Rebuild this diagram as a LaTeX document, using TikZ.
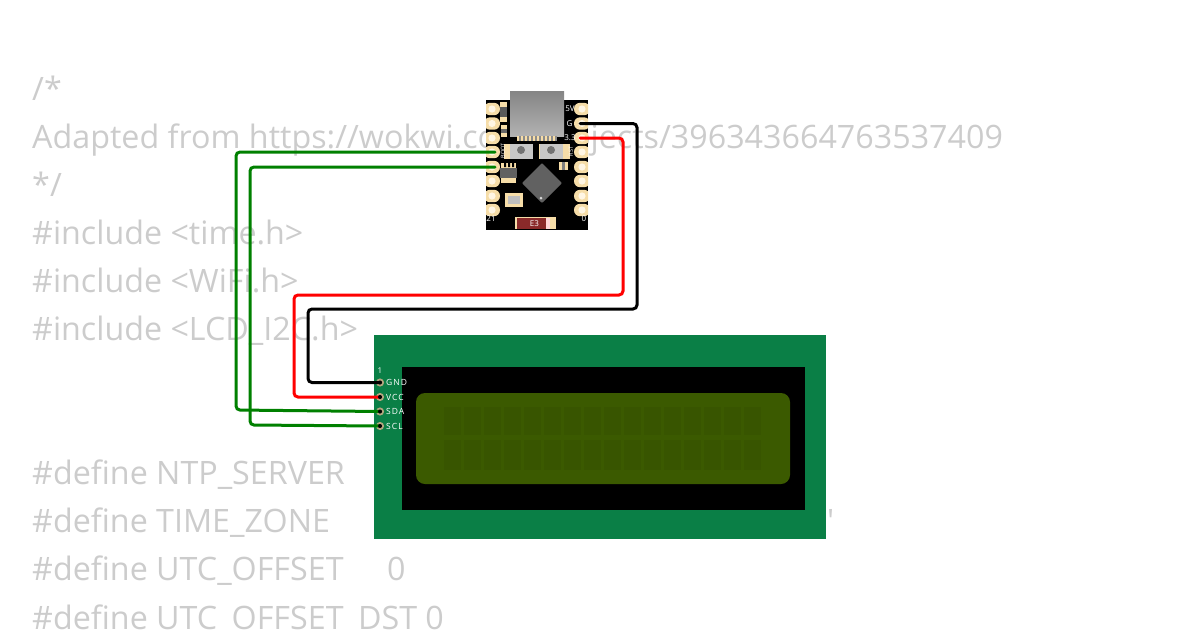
\documentclass[tikz,border=0pt]{standalone}
\usepackage{fontspec}
\setmainfont{Open Sans}
\newfontfamily\plainfont{Open Sans}
\definecolor{codegray}{HTML}{CCCCCC}
\definecolor{lcdgreen}{HTML}{0A7F46}
\definecolor{lcdolive}{HTML}{3B5A00}
\definecolor{lcdcell}{HTML}{385500}
\definecolor{padcream}{HTML}{F6DDA8}
\definecolor{holecream}{HTML}{FFF6E4}
\definecolor{pintan}{HTML}{B3A67E}
\definecolor{wiregreen}{HTML}{008000}
\definecolor{fusered}{HTML}{8A2A2A}
\tikzset{
  codeline/.style={anchor=base west, inner sep=0pt, text=codegray, font=\fontsize{32.25}{38}\selectfont},
  padbox/.style={fill=padcream, minimum width=16pt, minimum height=12.4pt, inner sep=0pt, rounded corners=6pt},
  pinhole/.style={circle, fill=black, minimum size=6pt, inner sep=0pt, draw=pintan, line width=2pt},
  tinytext/.style={text=white, inner sep=0pt, font=\fontsize{8}{9}\selectfont},
  sidetext/.style={text=white, inner sep=0pt, rotate=90, font=\fontsize{5.5}{6}\selectfont},
  pinlabel/.style={anchor=west, text=white, inner sep=0pt, font=\fontsize{8.5}{9}\selectfont\addfontfeature{LetterSpace=12}},
  wire/.style={line width=3pt, rounded corners=4pt, line cap=round},
  button/.style={fill=black!22, minimum width=23pt, minimum height=15pt, inner sep=0pt},
}
\begin{document}
\begin{tikzpicture}[x=1pt,y=-1pt]
\useasboundingbox (0,0) rectangle (1200,630);

% code behind the parts
  \node[codeline] (c1) at (32,100) {/*};
  \node[codeline] (c2) at (32,148) {Adapted from https://wokwi.com/projects/396343664763537409};
  \node[codeline] (c3) at (32,196) {*/};
  \node[codeline] (c4) at (32,244) {\#include <time.h>};
  \node[codeline] (c5) at (32,292) {\#include <WiFi.h>};
  \node[codeline] (c6) at (32,340) {\#include <LCD\_I2C.h>};
  \node[codeline] (c7) at (32,484) {\#define NTP\_SERVER};
  \node[codeline] (c8) at (32,532) {\#define TIME\_ZONE};
  \node[codeline] (c9) at (32,580) {\#define UTC\_OFFSET};
  \node[codeline] (c10) at (387,580) {0};
  \node[codeline] (c11) at (32,629) {\#define UTC\_OFFSET\_DST 0};
  \node[codeline] (c12) at (827,532) {\plainfont '};

% board
  \fill[black] (486,100) rectangle (588,230);
  \shade[top color=black!48, bottom color=black!30] (510,91) rectangle (564,136);
  \fill[padcream] (517,136) rectangle (557,141);
  \foreach \x in {520,524,...,556}
    \fill[black!45] (\x-0.6,136) rectangle (\x+0.6,141);

  \begin{scope}
  \clip (486,100) rectangle (588,230);
  \foreach \n/\y in {1/109,2/123.5,3/138,4/152,5/167,6/181,7/196,8/210} {
    \node[padbox] (l\n) at (492,\y) {};
    \node[padbox] (r\n) at (582,\y) {};
    \fill[holecream] (l\n.center) circle (3.6);
    \fill[holecream] (r\n.center) circle (3.6);
  }
  \end{scope}

% parts on the board
  \fill[padcream] (500,102) rectangle (507,122);
  \fill[black!65] (500,107) rectangle (507,117);
  \fill[padcream] (501,125) rectangle (507,137);
  \fill[black!60] (501,129) rectangle (507,133);
  \fill[padcream] (504,144) rectangle (570,159);
  \fill[black] (532,144) rectangle (539,159);
  \node[button] (btnL) at (521,151.5) {};
  \node[button] (btnR) at (551,151.5) {};
  \fill[black!55] (521,150) circle (4);
  \fill[black!55] (551,150) circle (4);
  \fill[padcream] (501,163) rectangle (516,183);
  \fill[black] (504,163) rectangle (506,167) (508,163) rectangle (510,167) (512,163) rectangle (514,167);
  \fill[black!62] (500,168) rectangle (517,178);
  \fill[padcream] (505,193) rectangle (523,207);
  \fill[black!25] (508,196) rectangle (520,204);
  \fill[padcream] (559,162) rectangle (568,170);
  \fill[black!50] (562,162) rectangle (565,170);
  \fill[black!62, rounded corners=1pt] (522,183) -- (542,163) -- (562,183) -- (542,203) -- cycle;
  \fill[white!85!black] (541,198) circle (1.5);
  \fill[padcream] (515,217) rectangle (556,229);
  \fill[fusered] (517,218) rectangle (546,229);
  \fill[white!85!red] (546,218) rectangle (550,229);

  \node[tinytext] (t5v) at (570,109) {5V};
  \node[tinytext] (tg) at (569.5,124) {G};
  \node[tinytext] (t33) at (570,137.5) {3.3};
  \node[sidetext] (tboot) at (503,151) {BOOT};
  \node[sidetext] (trst) at (571,151.5) {RST};
  \node[tinytext] (t21) at (491,219) {21};
  \node[tinytext] (t0) at (584,219) {0};
  \node[tinytext] (te3) at (534.5,223.5) {E3};

% display
  \fill[lcdgreen] (374,335) rectangle (826,539);
  \fill[black] (402,367) rectangle (805,510);
  \fill[lcdolive, rounded corners=9pt] (416,393) rectangle (790,484);
  \foreach \i in {0,...,15} {
    \fill[lcdcell] (444+\i*20,407) rectangle +(16.5,28);
    \fill[lcdcell] (444+\i*20,440) rectangle +(16.5,30);
  }

  \node[tinytext] (n1) at (380,371) {1};
  \node[pinhole] (gnd) at (380,382.5) {};
  \node[pinhole] (vcc) at (380,397) {};
  \node[pinhole] (sda) at (380,411.5) {};
  \node[pinhole] (scl) at (380,426) {};
  \node[pinlabel] (lgnd) at (386,382.5) {GND};
  \node[pinlabel] (lvcc) at (386,397) {VCC};
  \node[pinlabel] (lsda) at (386,411.5) {SDA};
  \node[pinlabel] (lscl) at (386,426) {SCL};

% wires
  \draw[wire, black] ([xshift=-2pt]r2.center) -- (637,123.5) -- (637,309) -- (308,309) -- (308,382.5) -- (gnd.center);
  \draw[wire, red] ([xshift=-2pt]r3.center) -- (623,138) -- (623,295) -- (294,295) -- (294,397) -- (vcc.center);
  \draw[wire, wiregreen] ([xshift=3pt]l4.center) -- (236,152) -- (236,410) -- (sda.center);
  \draw[wire, wiregreen] ([xshift=3pt]l5.center) -- (250,167) -- (250,425) -- (scl.center);

  \fill[black] (gnd.center) circle (2) (vcc.center) circle (2) (sda.center) circle (2) (scl.center) circle (2);
\end{tikzpicture}
\end{document}
